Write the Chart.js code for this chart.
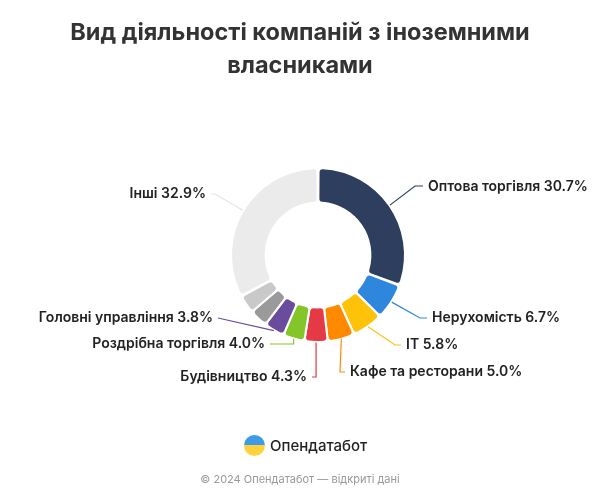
<!DOCTYPE html>
<html><head><meta charset="utf-8">
<script src="https://cdn.jsdelivr.net/npm/chart.js@4"></script>
<style>
html,body{margin:0;padding:0;background:#fff;width:600px;height:500px;overflow:hidden;font-family:Inter,"Noto Sans",sans-serif}
#wrap{position:absolute;left:0;top:0;width:600px;height:500px}
#title{position:absolute;left:0;width:600px;top:15px;text-align:center;font-weight:700;font-size:23.5px;line-height:33px;color:#333}
#logo{position:absolute;left:244px;top:435px;display:flex;align-items:center;font-size:15px;color:#222;font-weight:500}
#logo span.c{display:inline-block;width:21px;height:21px;border-radius:50%;background:linear-gradient(#3d9be9 0%,#3d9be9 50%,#ffd23c 50%,#ffd23c 100%);margin-right:5px;position:relative}
#foot{position:absolute;left:0;width:600px;top:472px;text-align:center;font-size:11px;color:#999}
</style></head><body>
<div id="wrap"><canvas id="c" width="600" height="500"></canvas></div>
<div id="title">Вид діяльності компаній з іноземними<br>власниками</div>
<div id="logo"><span class="c"></span>Опендатабот</div>
<div id="foot">© 2024 Опендатабот — відкриті дані</div>
<script>
const categories = ["Оптова торгівля","Нерухомість","IT","Кафе та ресторани","Будівництво","Роздрібна торгівля","Головні управління","Інше 1","Інше 2","Інші"];
const values = [30.7,6.7,5.8,5.0,4.3,4.0,3.8,3.4,3.4,32.9];
const colors = ["#2d3e5e","#2f86dd","#ffc20a","#ff8a00","#e63946","#84c52a","#6a4c9c","#9a9a9a","#c9c9c9","#ebebeb"];
const showLabel = [true,true,true,true,true,true,true,false,false,true];
const labelLayout = [
 {ex:415,ey:186,tx:428,ty:187,al:"left"},
 {ex:420,ey:318,tx:432,ty:318,al:"left"},
 {ex:395,ey:345,tx:406,ty:345,al:"left"},
 {ex:340,ey:372,tx:350,ty:372,al:"left"},
 {ex:317,ey:377,tx:307,ty:377,al:"right",vert:true},
 {ex:0,ey:344,tx:265,ty:344,al:"right",vert:true},
 {ex:218,ey:318,tx:213,ty:318,al:"right"},
 null,null,
 {ex:215,ey:194,tx:206,ty:194,al:"right"}
];
const labelPlugin = {
  id:'lbl',
  afterDatasetsDraw(chart){
    const ctx = chart.ctx, meta = chart.getDatasetMeta(0);
    ctx.save();
    ctx.font = "600 14px Inter, 'Noto Sans', sans-serif";
    ctx.textBaseline = "middle";
    meta.data.forEach((arc,i)=>{
      if(!showLabel[i]) return;
      const L = labelLayout[i];
      const mid = (arc.startAngle+arc.endAngle)/2;
      const r = arc.outerRadius + 1;
      const sx = arc.x + Math.cos(mid)*r, sy = arc.y + Math.sin(mid)*r;
      ctx.strokeStyle = colors[i]==="#ebebeb" ? "#e4e4e4" : colors[i];
      ctx.lineWidth = 1.2;
      ctx.beginPath();
      ctx.moveTo(sx,sy);
      const endX = L.al==="right" ? L.tx+5 : L.tx-5;
      if(L.vert){ ctx.lineTo(sx,L.ey); } else { ctx.lineTo(L.ex,L.ey); }
      ctx.lineTo(endX,L.ey);
      ctx.stroke();
      ctx.fillStyle = "#222";
      ctx.textAlign = L.al;
      ctx.fillText(categories[i]+" "+values[i].toFixed(1)+"%", L.tx, L.ty);
    });
    ctx.restore();
  }
};
new Chart(document.getElementById('c'),{
  type:'doughnut',
  data:{labels:categories,datasets:[{data:values,backgroundColor:colors,borderColor:"#fff",borderWidth:2,borderRadius:4,spacing:1}]},
  options:{
    responsive:false,animation:false,cutout:"60%",
    layout:{padding:{left:230,right:194,top:167,bottom:157}},
    plugins:{legend:{display:false},tooltip:{enabled:false}}
  },
  plugins:[labelPlugin]
});
</script>
</body></html>
